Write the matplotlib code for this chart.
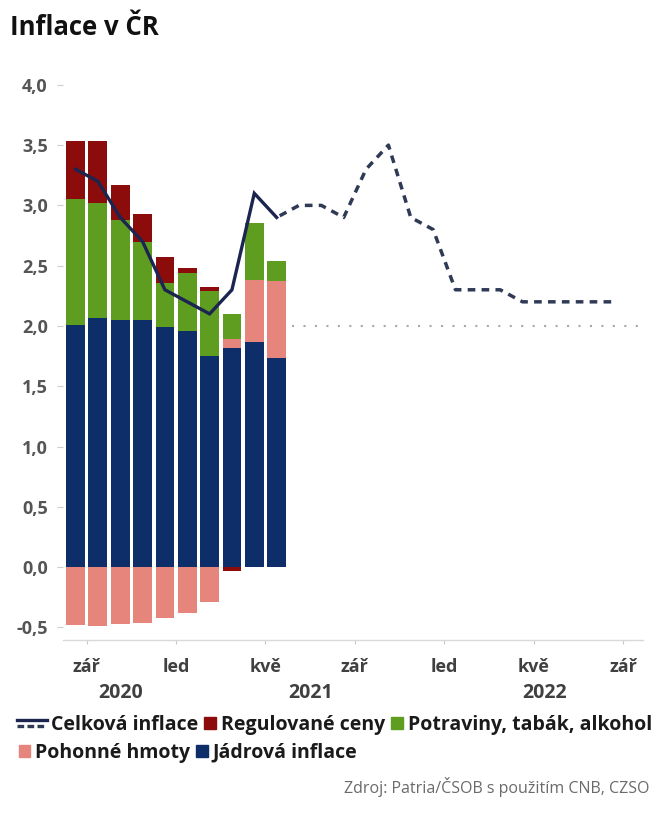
import numpy as np
import matplotlib
matplotlib.use("Agg")
import matplotlib.pyplot as plt
from matplotlib.legend_handler import HandlerBase
from matplotlib.lines import Line2D
from matplotlib.patches import Patch

plt.rcParams['font.family'] = ['Open Sans', 'DejaVu Sans']

# months counted from Aug 2020 (index 0) to Sep 2022 (index 25)
month_names = ['led', 'úno', 'bře', 'dub', 'kvě', 'čvn',
               'čvc', 'srp', 'zář', 'říj', 'lis', 'pro']
first_month = 8      # srpen
first_year = 2020
n_months = 26

# contributions to inflation, Aug 2020 .. May 2021
bar_idx = list(range(10))
jadrova = [2.01, 2.07, 2.05, 2.05, 1.99, 1.96, 1.75, 1.82, 1.87, 1.73]
pohonne = [-0.48, -0.49, -0.47, -0.46, -0.42, -0.38, -0.29, 0.07, 0.51, 0.64]
potraviny = [1.04, 0.95, 0.83, 0.65, 0.37, 0.48, 0.54, 0.21, 0.47, 0.17]
regulovane = [0.48, 0.51, 0.29, 0.23, 0.21, 0.04, 0.03, -0.03, 0.0, 0.0]

# headline inflation, actual and forecast
celkova_idx = list(range(10))
celkova = [3.3, 3.2, 2.9, 2.7, 2.3, 2.2, 2.1, 2.3, 3.1, 2.9]
prognoza_idx = list(range(9, 25))
prognoza = [2.9, 3.0, 3.0, 2.9, 3.3, 3.5, 2.9, 2.8, 2.3, 2.3, 2.3, 2.2,
            2.2, 2.2, 2.2, 2.2]

# CNB target
cil = 2.0
cil_od, cil_do = 9.7, 25.2

c_navy = '#0e2e6a'
c_red = '#8c0b0b'
c_green = '#5e9d20'
c_pink = '#e5857b'
c_line = '#1b2550'
c_dash = '#2f3a55'


class DoubleLine(HandlerBase):
    """legend icon: solid line over a dashed one"""
    def create_artists(self, legend, orig, xd, yd, w, h, fontsize, trans):
        x0, x1 = -xd - 1.5 * w, -xd + w
        top = Line2D([x0, x1], [(h - yd) * 0.78] * 2, color=c_line, lw=2.4,
                     transform=trans)
        bot = Line2D([x0, x1], [(h - yd) * 0.25] * 2, color=c_dash, lw=2.4,
                     ls=(0, (2.0, 1.0)), transform=trans)
        return [top, bot]


fig = plt.figure(figsize=(6.7, 8.18), dpi=100)
ax = fig.add_axes([0.094, 0.2176, 0.866, 0.6846])

# stacked bars
pos = np.zeros(len(bar_idx))
neg = np.zeros(len(bar_idx))
for vals, col in [(jadrova, c_navy), (pohonne, c_pink),
                  (potraviny, c_green), (regulovane, c_red)]:
    v = np.array(vals)
    base = np.where(v >= 0, pos, neg)
    ax.bar(bar_idx, v, bottom=base, width=0.84, color=col, linewidth=0,
           zorder=2)
    pos = pos + np.where(v > 0, v, 0)
    neg = neg + np.where(v < 0, v, 0)

ax.plot(celkova_idx, celkova, color=c_line, lw=2.4, zorder=4,
        solid_joinstyle='miter')
ax.plot(prognoza_idx, prognoza, color=c_dash, lw=2.5, zorder=3,
        ls=(3, (2.2, 1.8)))
ax.plot([cil_od, cil_do], [cil, cil], color='#a8a8a8', lw=1.5,
        ls=(0, (1, 4.5)), zorder=1)

ax.set_xlim(-0.56, 25.4)
ax.set_ylim(-0.605, 4.04)

yt = np.arange(-0.5, 4.01, 0.5)
ax.set_yticks(yt)
ax.set_yticklabels([f'{t:.1f}'.replace('.', ',') for t in yt],
                   fontsize=13, fontweight='bold', color='#555555')

xt, xl = [], []
for i in range(n_months):
    m = (first_month - 1 + i) % 12
    if m in (0, 4, 8) and i > 0:
        xt.append(i - 0.5)
        xl.append(month_names[m])
ax.set_xticks(xt)
ax.set_xticklabels(xl, fontsize=13, fontweight='bold', color='#404040')

ax.tick_params(axis='y', length=4, width=0.8, color='#cccccc', pad=7)
ax.tick_params(axis='x', length=3, width=0.8, color='#c8c8c8', pad=10)

for s in ['top', 'right', 'left']:
    ax.spines[s].set_visible(False)
ax.spines['bottom'].set_color('#d9d9d9')
ax.spines['bottom'].set_linewidth(1.0)

# year labels centred on the months of each year
years = {}
for i in range(n_months):
    y = first_year + (first_month - 1 + i) // 12
    years.setdefault(y, []).append(i)
for y, idx in years.items():
    ax.text((idx[0] + idx[-1]) / 2, -0.094, str(y), transform=ax.get_xaxis_transform(),
            ha='center', va='center', fontsize=14, fontweight='bold',
            color='#404040')

fig.text(0.015, 0.966, 'Inflace v ČR', fontsize=18.5, fontweight='bold',
         color='#111111', va='center')

leg_font = dict(size=14, weight='bold')
h1 = [Line2D([], []), Patch(color=c_red), Patch(color=c_green)]
leg1 = fig.legend(h1, ['Celková inflace', 'Regulované ceny',
                       'Potraviny, tabák, alkohol'],
                  handler_map={Line2D: DoubleLine()}, ncol=3,
                  loc='center left', bbox_to_anchor=(0.052, 0.114),
                  frameon=False, prop=leg_font, handlelength=0.6,
                  handleheight=0.6, handletextpad=0.25, columnspacing=0.3,
                  borderpad=0, borderaxespad=0)
for t in leg1.get_texts():
    t.set_color('#1a1a1a')
h2 = [Patch(color=c_pink), Patch(color=c_navy)]
leg2 = fig.legend(h2, ['Pohonné hmoty', 'Jádrová inflace'], ncol=2,
                  loc='center left', bbox_to_anchor=(0.028, 0.080),
                  frameon=False, prop=leg_font, handlelength=0.6,
                  handleheight=0.6, handletextpad=0.25, columnspacing=0.3,
                  borderpad=0, borderaxespad=0)
for t in leg2.get_texts():
    t.set_color('#1a1a1a')

fig.text(0.97, 0.038, 'Zdroj: Patria/ČSOB s použitím CNB, CZSO', fontsize=11.5,
         color='#6a6a6a', ha='right', va='center')

fig.savefig('out.png', dpi=100)
